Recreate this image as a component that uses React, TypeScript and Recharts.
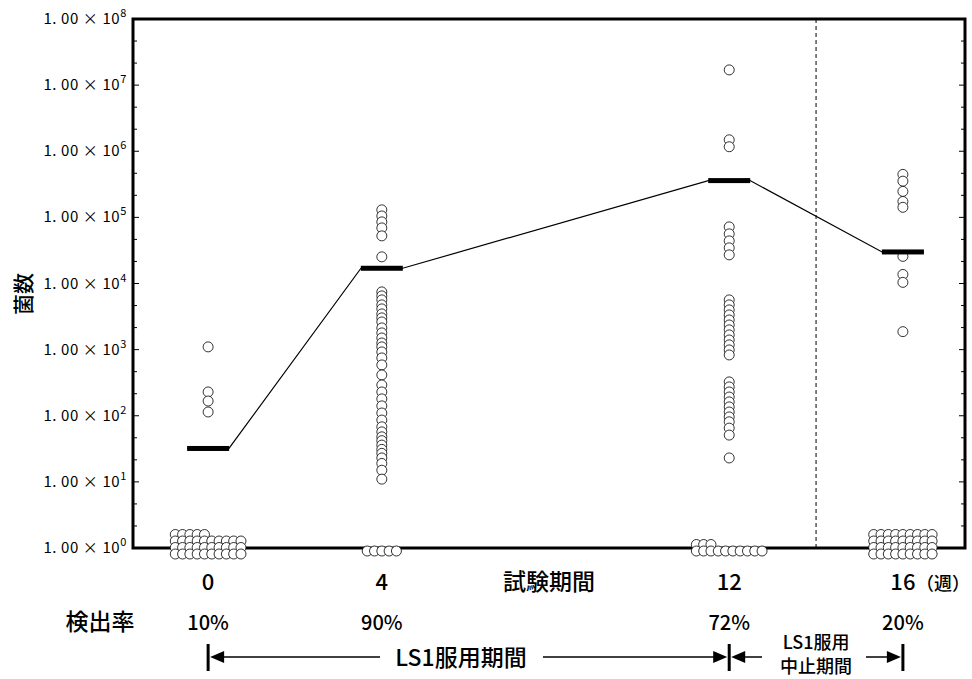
import React from "react";
import {
  ComposedChart,
  Line,
  ReferenceArea,
  ReferenceLine,
  Scatter,
  XAxis,
  YAxis,
} from "recharts";

const WEEKS = [0, 4, 12, 16];
const DETECTION_RATES = ["10%", "90%", "72%", "20%"];
const MEDIANS = [32, 17000, 360000, 30000];
// subjects below detection limit, drawn as a pile at 1.00×10^0
const NOT_DETECTED = [35, 5, 13, 36];
const PILE_COLUMNS = [10, 5, 10, 9];

const WEEK0_COUNTS = [1100, 229, 167, 114];
const WEEK4_COUNTS = [
  130000, 105000, 85500, 69300, 52500, 25300,
  7460, 6490, 5650, 4750, 4130, 3470, 3020, 2620, 2130, 1790, 1500, 1260, 1100, 923, 749, 587, 414,
  292, 229, 180, 141, 110, 86, 68,
  57, 48, 42, 36, 31, 27, 23, 19, 15, 11,
];
const WEEK12_COUNTS = [
  17000000, 1490000, 1170000,
  71800, 56300, 44100, 34600, 27100,
  5650, 4750, 3990, 3350, 2810, 2360, 1990, 1670, 1400, 1180, 990, 831,
  325, 273, 229, 192, 162, 136, 114, 96, 81, 65, 51,
  23,
];
const WEEK16_COUNTS = [447000, 353000, 247000, 174000, 142000, 25700, 13700, 10400, 1870];

const MAJOR_TICKS = [1, 10, 100, 1000, 10000, 100000, 1000000, 10000000, 100000000];

const W = 972;
const H = 679;
const PLOT_LEFT = 133;
const PLOT_RIGHT = 965;
const X_MIN = -1.73;
const X_MAX = 17.43;
const BAR_HALF = 0.48; // half width of the median bar, in weeks
const FONT = '"Noto Sans CJK JP", "Noto Sans", sans-serif';

const yTicks = MAJOR_TICKS.flatMap((v, i) =>
  i < MAJOR_TICKS.length - 1 ? [v, v * Math.pow(10, 1 / 3), v * Math.pow(10, 2 / 3)] : [v]
);

const groups = [WEEK0_COUNTS, WEEK4_COUNTS, WEEK12_COUNTS, WEEK16_COUNTS];
const detected = groups.flatMap((arr, i) => arr.map((count) => ({ week: WEEKS[i], count })));
const piles = WEEKS.map((week, i) => ({ week, count: 1, n: NOT_DETECTED[i], cols: PILE_COLUMNS[i] }));
const medians = WEEKS.map((week, i) => ({ week, count: MEDIANS[i] }));
const medianLine = WEEKS.flatMap((week, i) => [
  { week: week - BAR_HALF, count: MEDIANS[i] },
  { week: week + BAR_HALF, count: MEDIANS[i] },
]);

const xPx = (w: number) => PLOT_LEFT + ((w - X_MIN) / (X_MAX - X_MIN)) * (PLOT_RIGHT - PLOT_LEFT);

const OpenDot = (props: any) => (
  <circle cx={props.cx} cy={props.cy} r={5} fill="#fff" stroke="#000" strokeWidth={0.8} />
);

const MedianBar = (props: any) => (
  <rect x={props.cx - 21} y={props.cy - 2.5} width={42} height={5} fill="#000" />
);

const Pile = (props: any) => {
  const { cx, cy, payload } = props;
  const { n, cols } = payload;
  const base = Math.floor(n / cols);
  const extra = n % cols;
  const rows = base + (extra ? 1 : 0);
  const step = 7.3;
  const x0 = cx - ((cols - 1) * step) / 2;
  const bottom = rows > 2 ? cy + 6 : cy + 3;
  const out: React.ReactNode[] = [];
  for (let row = rows - 1; row >= 0; row--) {
    for (let c = 0; c < cols; c++) {
      const h = base + (c < extra ? 1 : 0);
      if (row < h) {
        out.push(
          <circle
            key={`${row}-${c}`}
            cx={x0 + c * step}
            cy={bottom - row * 6.5}
            r={5}
            fill="#fff"
            stroke="#000"
            strokeWidth={0.8}
          />
        );
      }
    }
  }
  return <g>{out}</g>;
};

const YTick = (props: any) => {
  const { x, y, payload } = props;
  const e = Math.log10(payload.value);
  const major = Math.abs(e - Math.round(e)) < 1e-6;
  const ax = x + 6;
  const len = major ? 6 : 4;
  return (
    <g>
      <line x1={ax} x2={ax + len} y1={y} y2={y} stroke="#000" strokeWidth={1} />
      <line x1={PLOT_RIGHT - len} x2={PLOT_RIGHT} y1={y} y2={y} stroke="#000" strokeWidth={1} />
      {major && (
        <text
          x={x}
          y={y + 5}
          textAnchor="end"
          fontSize={15}
          letterSpacing={0.6}
          fontFamily={FONT}
          fill="#000"
        >
          <tspan>1. 00 × 10</tspan>
          <tspan dy={-7} fontSize={11}>
            {Math.round(e)}
          </tspan>
        </text>
      )}
    </g>
  );
};

const XTick = (props: any) => {
  const { x, y, payload } = props;
  const i = WEEKS.indexOf(payload.value);
  return (
    <g fontFamily={FONT} fill="#000">
      <text x={x} y={y + 42} textAnchor="middle" fontSize={22} fontWeight={500}>
        {payload.value}
      </text>
      {payload.value === 16 && (
        <text x={W - 2} y={y + 42} textAnchor="end" fontSize={18} fontWeight={500}>
          （週）
        </text>
      )}
      <text x={x} y={y + 82} textAnchor="middle" fontSize={20} fontWeight={500}>
        {DETECTION_RATES[i]}
      </text>
    </g>
  );
};

function Annotations() {
  const x0 = xPx(0);
  const x12 = xPx(12);
  const x16 = xPx(16);
  const ay = 657;
  const head = (tip: number, dir: number) =>
    `${tip},${ay} ${tip + dir * 14},${ay - 6} ${tip + dir * 14},${ay + 6}`;
  return (
    <svg
      width={W}
      height={H}
      style={{ position: "absolute", left: 0, top: 0, pointerEvents: "none" }}
      fontFamily={FONT}
      fontWeight={500}
    >
      <text
        x={22}
        y={294}
        transform="rotate(-90 22 294)"
        textAnchor="middle"
        dominantBaseline="central"
        fontSize={21}
      >
        菌数
      </text>
      <text x={(PLOT_LEFT + PLOT_RIGHT) / 2} y={590} textAnchor="middle" fontSize={23}>
        試験期間
      </text>
      <text x={100} y={630} textAnchor="middle" fontSize={23}>
        検出率
      </text>

      {[x0, x12, x16].map((bx) => (
        <line key={bx} x1={bx} x2={bx} y1={644} y2={671} stroke="#000" strokeWidth={3} />
      ))}
      <polygon points={head(x0 + 2, 1)} fill="#000" />
      <line x1={x0 + 14} x2={380} y1={ay} y2={ay} stroke="#000" strokeWidth={1.5} />
      <text x={461} y={666} textAnchor="middle" fontSize={23}>
        LS1服用期間
      </text>
      <line x1={543} x2={x12 - 14} y1={ay} y2={ay} stroke="#000" strokeWidth={1.5} />
      <polygon points={head(x12 - 2, -1)} fill="#000" />

      <polygon points={head(x12 + 2, 1)} fill="#000" />
      <line x1={x12 + 14} x2={762} y1={ay} y2={ay} stroke="#000" strokeWidth={1.5} />
      <text x={(x12 + x16) / 2} y={649} textAnchor="middle" fontSize={18}>
        LS1服用
      </text>
      <text x={(x12 + x16) / 2} y={673} textAnchor="middle" fontSize={18}>
        中止期間
      </text>
      <line x1={866} x2={x16 - 14} y1={ay} y2={ay} stroke="#000" strokeWidth={1.5} />
      <polygon points={head(x16 - 2, -1)} fill="#000" />
    </svg>
  );
}

export default function App() {
  return (
    <div style={{ position: "fixed", left: 0, top: 0, width: W, height: H, background: "#fff" }}>
      <ComposedChart width={W} height={H} margin={{ top: 19, right: W - PLOT_RIGHT, bottom: 31, left: 0 }}>
        <XAxis
          dataKey="week"
          type="number"
          domain={[X_MIN, X_MAX]}
          ticks={WEEKS}
          interval={0}
          tickLine={false}
          axisLine={false}
          tickSize={0}
          tickMargin={0}
          height={100}
          tick={<XTick />}
        />
        <YAxis
          dataKey="count"
          type="number"
          scale="log"
          domain={[1, 100000000]}
          ticks={yTicks}
          interval={0}
          tickLine={false}
          axisLine={false}
          tickSize={0}
          tickMargin={6}
          width={PLOT_LEFT}
          tick={<YTick />}
        />
        <ReferenceArea x1={X_MIN} x2={X_MAX} y1={1} y2={100000000} fill="none" stroke="#000" strokeWidth={3} />
        <ReferenceLine x={14} stroke="#000" strokeWidth={1} strokeDasharray="4 3" />
        <Line
          data={medianLine}
          dataKey="count"
          type="linear"
          stroke="#000"
          strokeWidth={1.2}
          dot={false}
          isAnimationActive={false}
        />
        <Scatter data={detected} dataKey="count" shape={<OpenDot />} isAnimationActive={false} />
        <Scatter data={piles} dataKey="count" shape={<Pile />} isAnimationActive={false} />
        <Scatter data={medians} dataKey="count" shape={<MedianBar />} isAnimationActive={false} />
      </ComposedChart>
      <Annotations />
    </div>
  );
}
